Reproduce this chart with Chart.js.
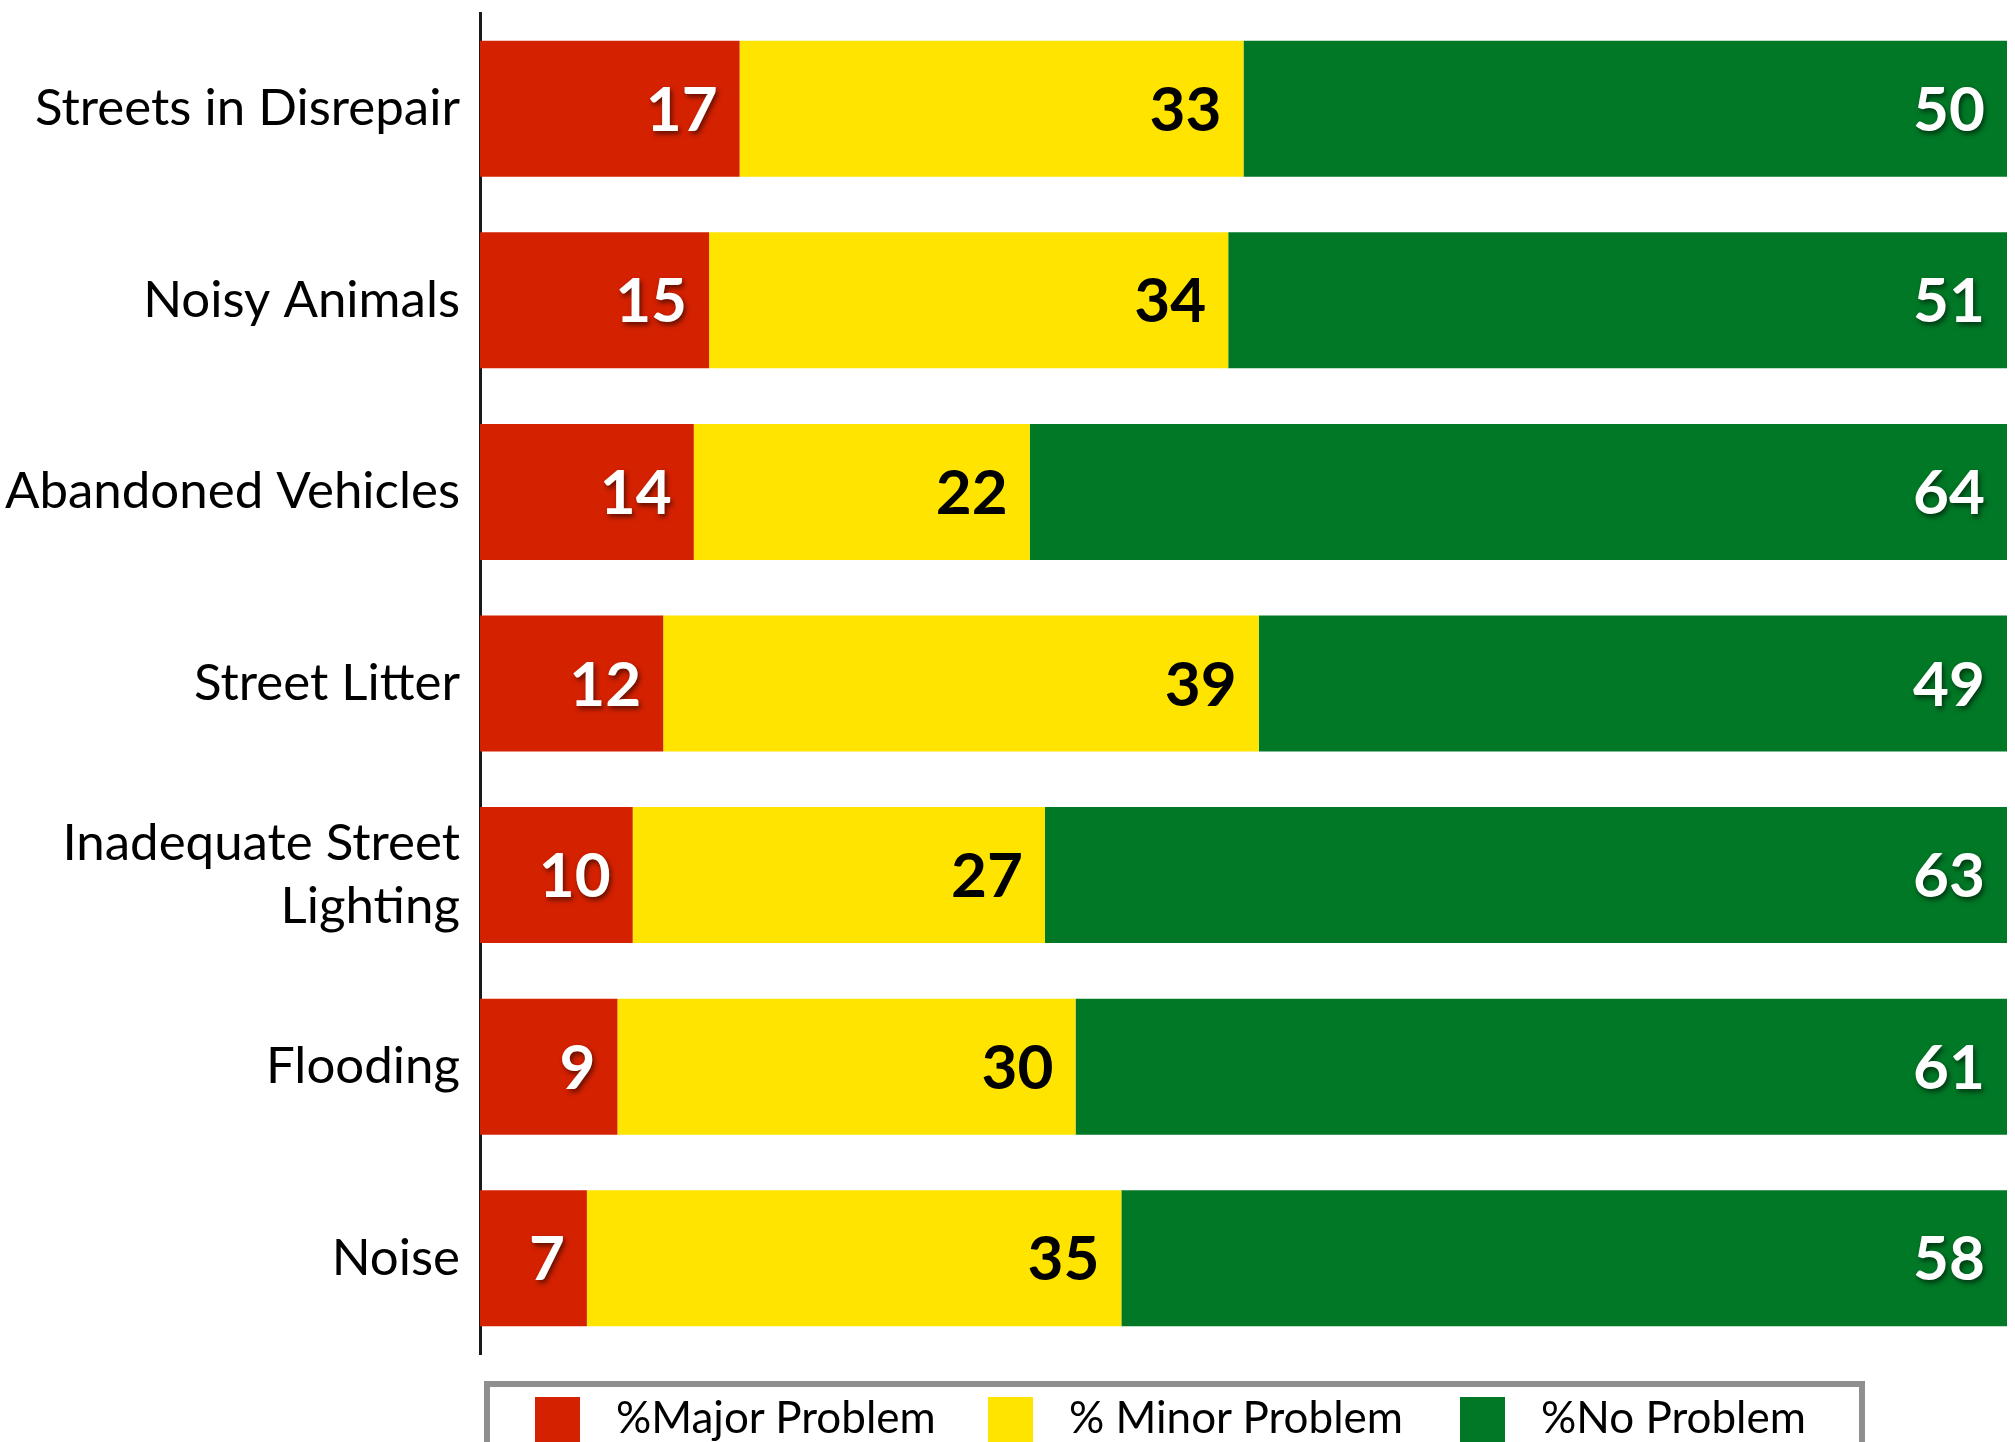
<!DOCTYPE html>
<html>
<head>
<meta charset="utf-8">
<script src="https://cdn.jsdelivr.net/npm/chart.js@4.4.0/dist/chart.umd.min.js"></script>
<style>
  html, body { margin: 0; padding: 0; background: #fff; }
  #wrap { position: relative; width: 2015px; height: 1442px; overflow: hidden; }
  #chart { position: absolute; left: 0; top: 0; }
  #legend {
    position: absolute; left: 484px; top: 1381px; width: 1381px; height: 120px;
    border: 6px solid #8f8f8f; box-sizing: border-box;
  }
  .lg-item { position: absolute; top: 3px; display: flex; align-items: center;
    font-family: Lato, "Open Sans", sans-serif; font-size: 44px; color: #000; white-space: nowrap; }
  .lg-dot { width: 45px; height: 45px; margin-right: 36px; margin-top: 6px; }
</style>
</head>
<body>
<div id="wrap">
  <canvas id="chart" width="2015" height="1442"></canvas>
  <div id="legend"></div>
</div>
<script>
// categorias e séries (percentuais)
const categories = [
  "Streets in Disrepair",
  "Noisy Animals",
  "Abandoned Vehicles",
  "Street Litter",
  ["Inadequate Street", "Lighting"],
  "Flooding",
  "Noise"
];
const majorProblem = [17, 15, 14, 12, 10, 9, 7];
const minorProblem = [33, 34, 22, 39, 27, 30, 35];
const noProblem    = [50, 51, 64, 49, 63, 61, 58];

const seriesNames  = ["%Major Problem", "% Minor Problem", "%No Problem"];
const seriesColors = ["#D42100", "#FFE400", "#007826"];
const labelColors  = ["#fff", "#000", "#fff"];

const FONT = "Lato, 'Open Sans', sans-serif";

// rótulos de valor no fim de cada segmento
const valueLabels = {
  id: "valueLabels",
  afterDatasetsDraw(chart) {
    const ctx = chart.ctx;
    ctx.save();
    ctx.font = "bold 62px " + FONT;
    ctx.textAlign = "right";
    ctx.textBaseline = "middle";
    chart.data.datasets.forEach((ds, di) => {
      const meta = chart.getDatasetMeta(di);
      meta.data.forEach((bar, i) => {
        const white = labelColors[di] === "#fff";
        ctx.shadowColor = white ? "rgba(0,0,0,0.55)" : "transparent";
        ctx.shadowBlur = white ? 5 : 0;
        ctx.shadowOffsetX = white ? 2 : 0;
        ctx.shadowOffsetY = white ? 3 : 0;
        ctx.fillStyle = labelColors[di];
        ctx.fillText(String(ds.data[i]), bar.x - 22, bar.y + 2);
      });
    });
    ctx.restore();
  }
};

const datasets = [majorProblem, minorProblem, noProblem].map((d, i) => ({
  label: seriesNames[i],
  data: d,
  backgroundColor: seriesColors[i],
  borderWidth: 0,
  categoryPercentage: 1,
  barPercentage: 0.71
}));

new Chart(document.getElementById("chart").getContext("2d"), {
  type: "bar",
  data: { labels: categories, datasets },
  options: {
    indexAxis: "y",
    responsive: false,
    animation: false,
    layout: { padding: { top: 13, right: 8, bottom: 88, left: 0 } },
    plugins: { legend: { display: false }, tooltip: { enabled: false } },
    scales: {
      x: { stacked: true, min: 0, max: 100, display: false },
      y: {
        stacked: true,
        grid: { display: false, drawTicks: false },
        border: { display: true, color: "#1a1a1a", width: 3 },
        ticks: { color: "#000", padding: 20, font: { family: FONT, size: 51, lineHeight: 1.25 } },
        afterFit: (s) => { s.width = 480; s.paddingTop = 0; s.paddingBottom = 0; }
      }
    }
  },
  plugins: [valueLabels]
});

// legenda manual
const lgLeft = [45, 498, 970];
document.getElementById("legend").innerHTML = seriesNames.map((n, i) => `
  <div class="lg-item" style="left:${lgLeft[i]}px">
    <span class="lg-dot" style="background:${seriesColors[i]}"></span><span>${n}</span>
  </div>`).join("");
</script>
</body>
</html>
